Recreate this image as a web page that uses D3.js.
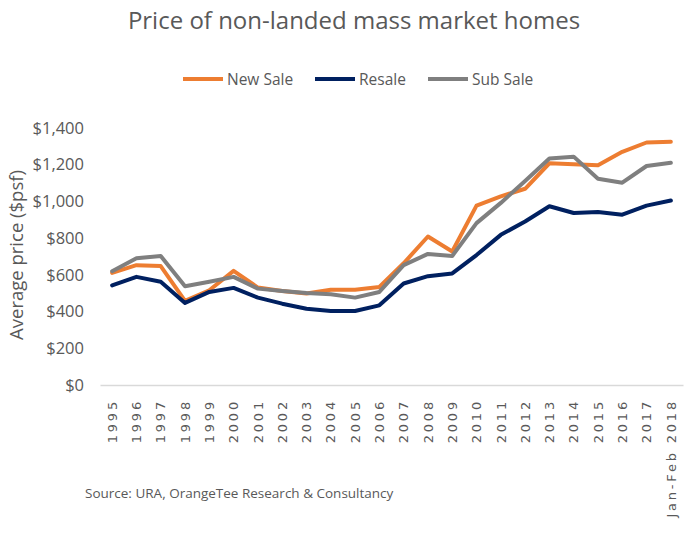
<!DOCTYPE html>
<html>
<head>
<meta charset="utf-8">
<style>
  body { margin: 0; background: #fff; }
  text { font-family: "Open Sans", sans-serif; fill: #595959; }
</style>
</head>
<body>
<svg width="692" height="536"></svg>
<script src="https://d3js.org/d3.v7.min.js"></script>
<script>
  var years = ["1995", "1996", "1997", "1998", "1999", "2000", "2001", "2002", "2003", "2004",
               "2005", "2006", "2007", "2008", "2009", "2010", "2011", "2012", "2013", "2014",
               "2015", "2016", "2017", "Jan-Feb 2018"];

  var newSale = [611, 653, 648, 458, 516, 622, 531, 512, 498, 519,
                 519, 534, 663, 809, 727, 977, 1028, 1069, 1208, 1203,
                 1197, 1270, 1321, 1325];
  var resale  = [543, 589, 562, 447, 507, 529, 476, 443, 415, 403,
                 403, 434, 553, 593, 608, 708, 818, 891, 974, 937,
                 943, 928, 977, 1005];
  var subSale = [620, 690, 703, 538, 562, 589, 525, 512, 501, 494,
                 476, 507, 653, 714, 703, 882, 992, 1111, 1234, 1244,
                 1124, 1102, 1193, 1211];

  var yTicks = [0, 200, 400, 600, 800, 1000, 1200, 1400];

  var series = [
    {name: "New Sale", values: newSale, color: "#ED7D31"},
    {name: "Resale",   values: resale,  color: "#002060"},
    {name: "Sub Sale", values: subSale, color: "#7F7F7F"}
  ];

  var svg = d3.select("svg"),
      margin = {top: 128, right: 9, bottom: 151, left: 100},
      width = +svg.attr("width") - margin.left - margin.right,
      height = +svg.attr("height") - margin.top - margin.bottom,
      g = svg.append("g").attr("transform", "translate(" + margin.left + "," + margin.top + ")");

  var x = d3.scaleBand()
      .domain(years)
      .range([0, width]);

  var y = d3.scaleLinear()
      .domain([0, 1400])
      .range([height, 0]);

  // title
  svg.append("text")
      .attr("x", 354)
      .attr("y", 29)
      .attr("text-anchor", "middle")
      .style("font-size", "24px")
      .text("Price of non-landed mass market homes");

  // legend
  var legendX = [183, 315, 428];
  var legend = svg.selectAll(".legend")
      .data(series)
      .enter().append("g")
      .attr("class", "legend")
      .attr("transform", function(d, i) { return "translate(" + legendX[i] + ",79)"; });

  legend.append("line")
      .attr("x1", 0).attr("x2", 40)
      .attr("stroke", function(d) { return d.color; })
      .attr("stroke-width", 4);

  legend.append("text")
      .attr("x", 44)
      .attr("y", 6)
      .style("font-size", "15.5px")
      .text(function(d) { return d.name; });

  // y axis (labels only)
  var yAxis = g.append("g")
      .call(d3.axisLeft(y).tickValues(yTicks).tickSize(0).tickPadding(16)
        .tickFormat(function(d) { return "$" + d3.format(",")(d); }));
  yAxis.select(".domain").remove();
  yAxis.selectAll("text")
      .style("font-size", "16.5px")
      .style("fill", "#595959")
      .style("font-family", "'Open Sans', sans-serif");

  // x axis
  var xAxis = g.append("g")
      .attr("transform", "translate(0," + height + ")")
      .call(d3.axisBottom(x).tickSize(0));
  xAxis.select(".domain")
      .attr("stroke", "#D9D9D9")
      .attr("stroke-width", 1.5);
  xAxis.selectAll("text")
      .attr("transform", "rotate(-90)")
      .attr("x", -14)
      .attr("y", 0)
      .attr("dy", "0.36em")
      .attr("text-anchor", "end")
      .style("font-family", "'DejaVu Sans', sans-serif")
      .style("font-size", "13px")
      .style("letter-spacing", "2.8px")
      .style("fill", "#595959");

  // y axis title
  svg.append("text")
      .attr("transform", "translate(23,255) rotate(-90)")
      .attr("text-anchor", "middle")
      .style("font-size", "18.5px")
      .text("Average price ($psf)");

  // lines
  var line = d3.line()
      .x(function(d, i) { return x(years[i]) + x.bandwidth() / 2; })
      .y(function(d) { return y(d); });

  g.selectAll(".series")
      .data(series)
      .enter().append("path")
      .attr("class", "series")
      .attr("fill", "none")
      .attr("stroke", function(d) { return d.color; })
      .attr("stroke-width", 4)
      .attr("stroke-linejoin", "round")
      .attr("stroke-linecap", "round")
      .attr("d", function(d) { return line(d.values); });

  // source
  svg.append("text")
      .attr("x", 85)
      .attr("y", 498)
      .style("font-size", "13.5px")
      .text("Source: URA, OrangeTee Research & Consultancy");
</script>
</body>
</html>
